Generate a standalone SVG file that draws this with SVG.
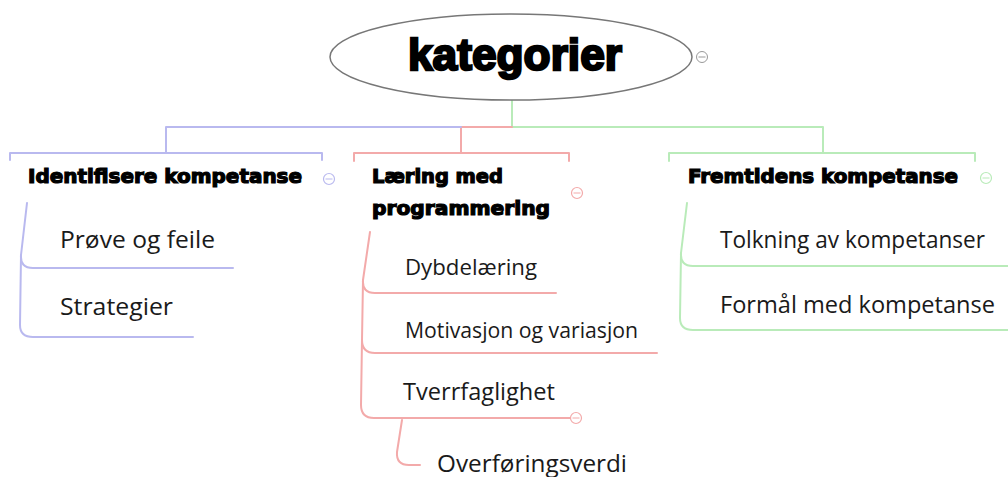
<svg xmlns="http://www.w3.org/2000/svg" width="1008" height="477" viewBox="0 0 1008 477">
<style>
.c{fill:none;stroke-width:2;stroke-linecap:round;stroke-linejoin:round}
.b{stroke:#b9b9ef}
.r{stroke:#f3aaaa}
.g{stroke:#b9ebb9}
.h{font-family:"DejaVu Sans",sans-serif;font-weight:bold;fill:#000;stroke:#000;stroke-width:1.2}
.t{font-family:"Open Sans","Noto Sans",sans-serif;fill:#1a1a1a}
.cc{fill:#fff;stroke-width:1.2}
</style>
<rect width="1008" height="477" fill="#fff"/>
<g id="connectors">
<path class="c g" d="M512,100 V127 H823 V153"/>
<path class="c r" d="M512,127 H461 V153"/>
<path class="c b" d="M461,127 H166 V153"/>
<path class="c b" d="M10,160 V153 H322 V160"/>
<path class="c r" d="M354,161 V153 H569 V161"/>
<path class="c g" d="M669,161 V153 H975 V161"/>
<path class="c b" d="M27,203 L21,255 Q20,268 33,268 H233"/>
<path class="c b" d="M21,255 L20,325 Q20,337 33,337 H193"/>
<path class="c r" d="M370,232 L363,280 Q362,293 375,293 H556"/>
<path class="c r" d="M363,280 L362,340 Q362,353 375,353 H657"/>
<path class="c r" d="M362,340 L361,405 Q361,418 374,418 H570"/>
<path class="c r" d="M402,420 L397,452 Q396,465 409,465 H420"/>
<path class="c g" d="M687,203 L681,253 Q680,266 693,266 H1008"/>
<path class="c g" d="M681,253 L680,318 Q680,330 693,330 H1008"/>
</g>
<g id="root">
<ellipse cx="511" cy="57" rx="181" ry="43" fill="#fff" stroke="#777" stroke-width="1.5"/>
<text x="408" y="70" font-family="'Liberation Sans',sans-serif" font-weight="bold" font-size="45" stroke="#000" stroke-width="2.4" textLength="214" lengthAdjust="spacingAndGlyphs">kategorier</text>
<circle cx="702" cy="57" r="5.5" fill="#fff" stroke="#999" stroke-width="1"/>
<path d="M698.5,57 H705.5" stroke="#999" stroke-width="1"/>
</g>
<g id="n-identifisere">
<text class="h" x="28" y="183" font-size="19" textLength="274" lengthAdjust="spacingAndGlyphs">Identifisere kompetanse</text>
<circle class="cc b" cx="329" cy="179" r="5.5"/><path class="b" d="M325.5,179 H332.5" stroke-width="1"/>
</g>
<g id="n-laering">
<text class="h" x="372" y="183" font-size="19" textLength="131" lengthAdjust="spacingAndGlyphs">Læring med</text>
<text class="h" x="372" y="215" font-size="19" textLength="178" lengthAdjust="spacingAndGlyphs">programmering</text>
<circle class="cc r" cx="577" cy="193" r="5.5"/><path class="r" d="M573.5,193 H580.5" stroke-width="1"/>
</g>
<g id="n-fremtidens">
<text class="h" x="688" y="183" font-size="19" textLength="270" lengthAdjust="spacingAndGlyphs">Fremtidens kompetanse</text>
<circle class="cc g" cx="986" cy="178" r="5.5"/><path class="g" d="M982.5,178 H989.5" stroke-width="1"/>
</g>
<g id="n-prove"><text class="t" x="60" y="248" font-size="24" textLength="155" lengthAdjust="spacingAndGlyphs">Prøve og feile</text></g>
<g id="n-strategier"><text class="t" x="60" y="315" font-size="24" textLength="113" lengthAdjust="spacingAndGlyphs">Strategier</text></g>
<g id="n-dybde"><text class="t" x="405" y="275" font-size="21" textLength="132" lengthAdjust="spacingAndGlyphs">Dybdelæring</text></g>
<g id="n-motivasjon"><text class="t" x="405" y="338" font-size="21" textLength="233" lengthAdjust="spacingAndGlyphs">Motivasjon og variasjon</text></g>
<g id="n-tverr">
<text class="t" x="403" y="400" font-size="23" textLength="152" lengthAdjust="spacingAndGlyphs">Tverrfaglighet</text>
<circle class="cc r" cx="576" cy="418" r="5.5"/><path class="r" d="M572.5,418 H579.5" stroke-width="1"/>
</g>
<g id="n-overforing"><text class="t" x="437" y="472" font-size="24" textLength="190" lengthAdjust="spacingAndGlyphs">Overføringsverdi</text></g>
<g id="n-tolkning"><text class="t" x="720" y="248" font-size="24" textLength="265" lengthAdjust="spacingAndGlyphs">Tolkning av kompetanser</text></g>
<g id="n-formal"><text class="t" x="720" y="313" font-size="24" textLength="275" lengthAdjust="spacingAndGlyphs">Formål med kompetanse</text></g>
</svg>
